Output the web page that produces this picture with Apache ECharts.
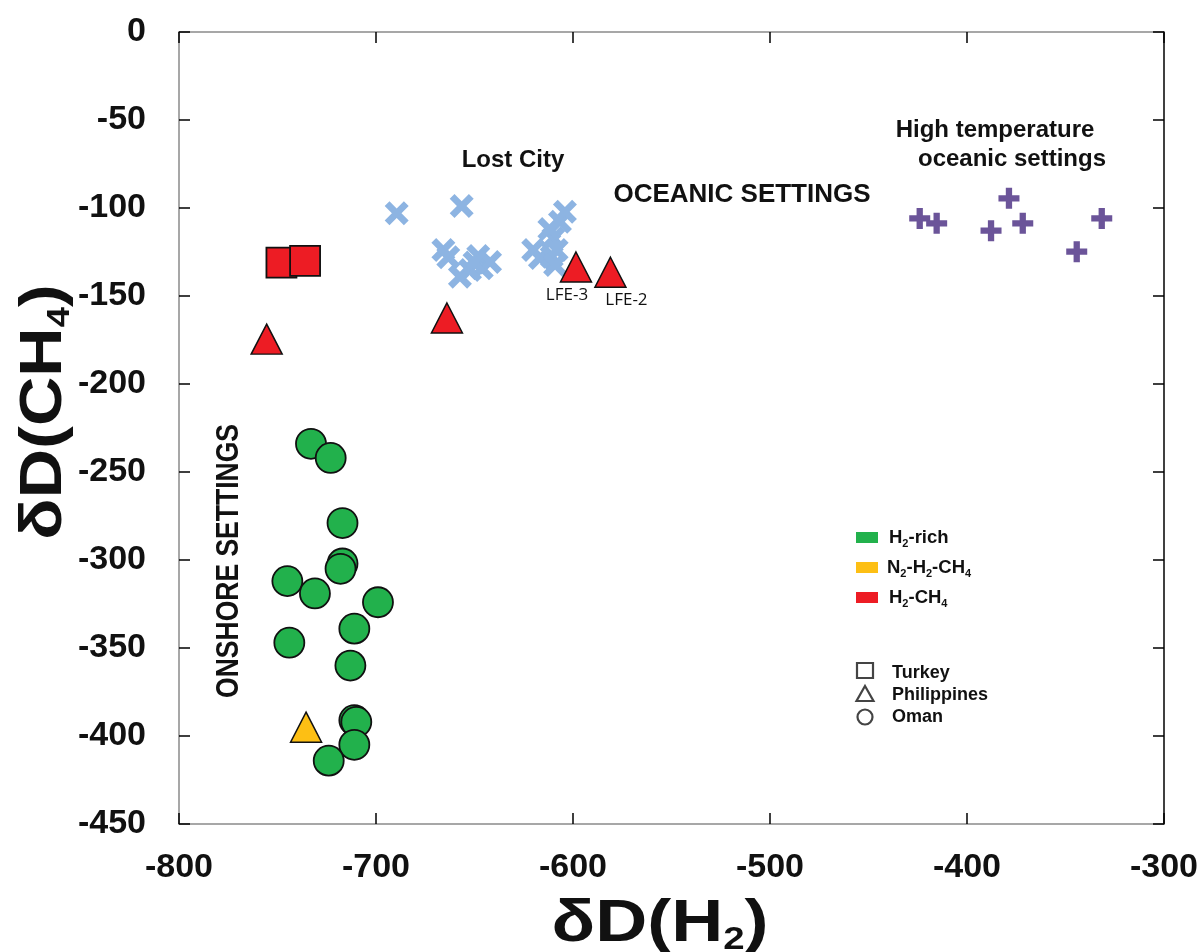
<!DOCTYPE html>
<html>
<head>
<meta charset="utf-8">
<script src="https://cdn.jsdelivr.net/npm/echarts@6/dist/echarts.min.js"></script>
<style>
html,body{margin:0;padding:0;background:#fff;}
#chart{width:1203px;height:952px;}
</style>
</head>
<body>
<div id="chart"></div>
<script>
// ---- Data ----
// Oman, H2-rich gases (circles)
const omanH2 = [-733, -723, -717, -717, -718, -745, -731, -699, -711, -744, -713, -711, -710, -711, -724];
const omanCH4 = [-234, -242, -279, -302, -305, -312, -319, -324, -339, -347, -360, -391, -392, -405, -414];
// Philippines, N2-H2-CH4 (triangle)
const philN2H2 = [-735.5];
const philN2CH4 = [-395];
// Turkey, H2-CH4 (squares)
const turkeyH2 = [-748, -736];
const turkeyCH4 = [-131, -130];
// Philippines, H2-CH4 (triangles)
const philH2 = [-755.5, -664, -598.5, -581];
const philCH4 = [-174.5, -162.5, -133.5, -136.5];
const philLabels = ['', '', 'LFE-3', 'LFE-2'];
// Lost City (crosses)
const lostH2 = [-689.5, -656.5, -665.8, -663.3, -648.1, -657.4, -646.3, -652.3, -642.1, -650, -620.2, -616.8, -610, -610.8, -608.3, -606.6, -604.1, -612, -609.1];
const lostCH4 = [-103, -98.9, -123.9, -128, -127.3, -139, -134.3, -135.2, -130.7, -131, -123.9, -128.4, -117.2, -127.7, -123.9, -107.8, -102.1, -112, -132.4];
// High temperature oceanic settings (plus)
const hotH2 = [-424, -415.4, -378.7, -387.8, -371.7, -344.3, -331.6];
const hotCH4 = [-105.9, -108.7, -94.5, -112.9, -108.7, -124.8, -105.9];
// Axis ranges / ticks
const xMin = -800, xMax = -300, xStep = 100;
const yMin = -450, yMax = 0, yStep = 50;

// ---- Helpers ----
function pairs(xs, ys) { return xs.map((x, i) => [x, ys[i]]); }
const FONT = "'Liberation Sans', Arial, sans-serif";
const GREEN = '#22b14c', YELLOW = '#fdbf14', RED = '#ed1c24', BLUE = '#8db4e2', PURPLE = '#6b5499';
const CROSS = 'path://M0,4 L4,0 L10,6 L16,0 L20,4 L14,10 L20,16 L16,20 L10,14 L4,20 L0,16 L6,10 Z';
const PLUS = 'path://M7,0 H13 V7 H20 V13 H13 V20 H7 V13 H0 V7 H7 Z';

const chart = echarts.init(document.getElementById('chart'), null, {renderer: 'canvas'});

const axisLabelStyle = {fontSize: 34, fontWeight: 'bold', color: '#111', fontFamily: FONT};
const tick = {show: true, inside: true, length: 11, lineStyle: {color: '#000', width: 1.5}};

const philData = pairs(philH2, philCH4).map((p, i) => {
  const d = {value: p};
  if (philLabels[i]) {
    d.label = {
      show: true, formatter: philLabels[i], position: 'bottom', distance: 4,
      offset: [i === 2 ? -9 : 16, 0],
      fontSize: 17, color: '#111', fontFamily: "'Open Sans', sans-serif"
    };
  }
  return d;
});

const subRich = (size, sub, drop) => ({
  b: {fontSize: size, fontWeight: 'bold', fontFamily: FONT, fill: '#111', lineHeight: size + 4},
  s: {fontSize: sub, fontWeight: 'bold', fontFamily: FONT, fill: '#111', lineHeight: drop, verticalAlign: 'bottom'}
});

const option = {
  backgroundColor: '#fff',
  animation: false,
  grid: {left: 179, right: 39, top: 32, bottom: 128, containLabel: false},
  xAxis: [
    {type: 'value', min: xMin, max: xMax, interval: xStep, position: 'bottom',
     axisLine: {show: true, onZero: false, lineStyle: {color: '#8a8a8a', width: 1.5}},
     axisTick: tick, splitLine: {show: false},
     axisLabel: Object.assign({margin: 27}, axisLabelStyle)},
    {type: 'value', min: xMin, max: xMax, interval: xStep, position: 'top',
     axisLine: {show: true, onZero: false, lineStyle: {color: '#8a8a8a', width: 1.5}},
     axisTick: tick, splitLine: {show: false}, axisLabel: {show: false}}
  ],
  yAxis: [
    {type: 'value', min: yMin, max: yMax, interval: yStep, position: 'left',
     axisLine: {show: true, onZero: false, lineStyle: {color: '#8a8a8a', width: 1.5}},
     axisTick: tick, splitLine: {show: false},
     axisLabel: Object.assign({margin: 33}, axisLabelStyle)},
    {type: 'value', min: yMin, max: yMax, interval: yStep, position: 'right',
     axisLine: {show: true, onZero: false, lineStyle: {color: '#000', width: 1.5}},
     axisTick: tick, splitLine: {show: false}, axisLabel: {show: false}}
  ],
  series: [
    {name: 'Lost City', type: 'scatter', data: pairs(lostH2, lostCH4), symbol: CROSS, symbolSize: 24,
     itemStyle: {color: BLUE, opacity: 1}, z: 2},
    {name: 'High temperature oceanic settings', type: 'scatter', data: pairs(hotH2, hotCH4), symbol: PLUS, symbolSize: 21,
     itemStyle: {color: PURPLE, opacity: 1}, z: 2},
    {name: 'H2-rich Oman', type: 'scatter', data: pairs(omanH2, omanCH4), symbol: 'circle', symbolSize: 30,
     itemStyle: {color: GREEN, borderColor: '#111', borderWidth: 1.8, opacity: 1}, z: 3},
    {name: 'N2-H2-CH4 Philippines', type: 'scatter', data: pairs(philN2H2, philN2CH4), symbol: 'triangle', symbolSize: [31, 30],
     itemStyle: {color: YELLOW, borderColor: '#111', borderWidth: 1.5, opacity: 1}, z: 3},
    {name: 'H2-CH4 Turkey', type: 'scatter', data: pairs(turkeyH2, turkeyCH4), symbol: 'rect', symbolSize: 30,
     itemStyle: {color: RED, borderColor: '#111', borderWidth: 1.8, opacity: 1}, z: 3},
    {name: 'H2-CH4 Philippines', type: 'scatter', data: philData, symbol: 'triangle', symbolSize: [31, 30],
     itemStyle: {color: RED, borderColor: '#111', borderWidth: 1.5, opacity: 1}, z: 3}
  ],
  graphic: [
    // axis titles
    {type: 'text', x: 660, y: 924, scaleX: 1.2, z: 10,
     style: {text: '{b|δD(H}{s|2}{b|)}', rich: subRich(60, 32, 12), align: 'center', verticalAlign: 'middle'}},
    {type: 'text', x: 44, y: 412, rotation: Math.PI / 2, scaleX: 1.14, z: 10,
     style: {text: '{b|δD(CH}{s|4}{b|)}', rich: subRich(60, 32, 12), align: 'center', verticalAlign: 'middle'}},
    // annotations
    {type: 'text', x: 513, y: 160, style: {text: 'Lost City', fontSize: 24, fontWeight: 'bold', fontFamily: FONT, fill: '#111', align: 'center', verticalAlign: 'middle'}},
    {type: 'text', x: 742, y: 195, style: {text: 'OCEANIC SETTINGS', fontSize: 26, fontWeight: 'bold', fontFamily: FONT, fill: '#111', align: 'center', verticalAlign: 'middle'}},
    {type: 'text', x: 995, y: 130, style: {text: 'High temperature', fontSize: 24, fontWeight: 'bold', fontFamily: FONT, fill: '#111', align: 'center', verticalAlign: 'middle'}},
    {type: 'text', x: 1012, y: 159, style: {text: 'oceanic settings', fontSize: 24, fontWeight: 'bold', fontFamily: FONT, fill: '#111', align: 'center', verticalAlign: 'middle'}},
    {type: 'text', x: 230, y: 561, rotation: Math.PI / 2, scaleY: 1.15, style: {text: 'ONSHORE SETTINGS', fontSize: 26.5, fontWeight: 'bold', fontFamily: FONT, fill: '#111', align: 'center', verticalAlign: 'middle'}},
    // colour legend
    {type: 'rect', shape: {x: 856, y: 532, width: 22, height: 11}, style: {fill: GREEN}},
    {type: 'rect', shape: {x: 856, y: 562, width: 22, height: 11}, style: {fill: YELLOW}},
    {type: 'rect', shape: {x: 856, y: 592, width: 22, height: 11}, style: {fill: RED}},
    {type: 'text', x: 889, y: 538, style: {text: '{b|H}{s|2}{b|-rich}', rich: subRich(18.5, 11, 6), align: 'left', verticalAlign: 'middle'}},
    {type: 'text', x: 887, y: 568, style: {text: '{b|N}{s|2}{b|-H}{s|2}{b|-CH}{s|4}', rich: subRich(18.5, 11, 6), align: 'left', verticalAlign: 'middle'}},
    {type: 'text', x: 889, y: 598, style: {text: '{b|H}{s|2}{b|-CH}{s|4}', rich: subRich(18.5, 11, 6), align: 'left', verticalAlign: 'middle'}},
    // shape legend
    {type: 'rect', shape: {x: 857, y: 663, width: 16, height: 15}, style: {fill: 'none', stroke: '#444', lineWidth: 2.2}},
    {type: 'polygon', shape: {points: [[865, 686], [873.5, 701], [856.5, 701]]}, style: {fill: 'none', stroke: '#444', lineWidth: 2.2}},
    {type: 'circle', shape: {cx: 865, cy: 717, r: 7.5}, style: {fill: 'none', stroke: '#444', lineWidth: 2.2}},
    {type: 'text', x: 892, y: 673, style: {text: 'Turkey', fontSize: 18, fontWeight: 'bold', fontFamily: FONT, fill: '#111', align: 'left', verticalAlign: 'middle'}},
    {type: 'text', x: 892, y: 695, style: {text: 'Philippines', fontSize: 18, fontWeight: 'bold', fontFamily: FONT, fill: '#111', align: 'left', verticalAlign: 'middle'}},
    {type: 'text', x: 892, y: 717, style: {text: 'Oman', fontSize: 18, fontWeight: 'bold', fontFamily: FONT, fill: '#111', align: 'left', verticalAlign: 'middle'}}
  ]
};
chart.setOption(option);
</script>
</body>
</html>
